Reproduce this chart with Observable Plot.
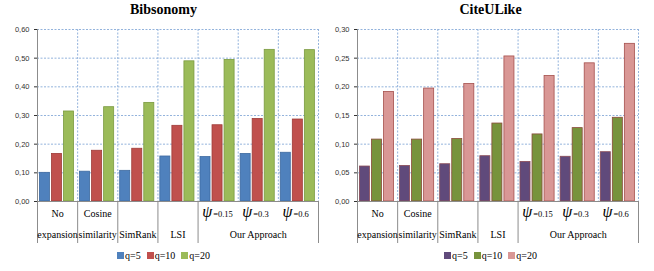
<!DOCTYPE html>
<html>
<head>
<meta charset="utf-8">
<script src="https://cdn.jsdelivr.net/npm/d3@7"></script>
<script src="https://cdn.jsdelivr.net/npm/@observablehq/plot@0.6"></script>
<style>
  html, body { margin: 0; padding: 0; background: #fff; }
  #root { position: relative; width: 654px; height: 271px; overflow: hidden; }
  .panel { position: absolute; top: 0; width: 327px; height: 271px; }
  .panel svg { position: absolute; left: 0; top: 0; }
  .title { position: absolute; top: 2px; left: 0; width: 327px; text-align: center;
           font: bold 14px "Liberation Serif", serif; color: #000; }
  .legend { position: absolute; top: 250px; left: 0; width: 327px; text-align: center;
            font: 10px "Liberation Serif", serif; color: #000; white-space: nowrap; }
  .legend .item { display: inline-block; margin: 0 3px; }
  .legend .sw { display: inline-block; width: 7px; height: 7px; margin-right: 1px; vertical-align: 0px; }
</style>
</head>
<body>
<div id="root"></div>
<script>
// ---- data ----
const categories = ["No expansion", "Cosine similarity", "SimRank", "LSI", "ψ=0.15", "ψ=0.3", "ψ=0.6"];
const labelTop = ["No", "Cosine", "", "", "", "", ""];
const labelBottom = ["expansion", "similarity", "SimRank", "LSI", "", "Our Approach", ""];
const psiLabels = ["", "", "", "", "=0.15", "=0.3", "=0.6"];
const series = ["q=5", "q=10", "q=20"];

const bibTitle = "Bibsonomy";
const bibQ5  = [0.100, 0.104, 0.107, 0.157, 0.155, 0.166, 0.170];
const bibQ10 = [0.166, 0.177, 0.184, 0.264, 0.266, 0.288, 0.286];
const bibQ20 = [0.314, 0.329, 0.344, 0.489, 0.494, 0.529, 0.528];
const bibTicks = [0, 0.1, 0.2, 0.3, 0.4, 0.5, 0.6];

const citeTitle = "CiteULike";
const citeQ5  = [0.061, 0.062, 0.065, 0.079, 0.069, 0.078, 0.086];
const citeQ10 = [0.108, 0.108, 0.109, 0.136, 0.117, 0.128, 0.146];
const citeQ20 = [0.191, 0.197, 0.205, 0.253, 0.219, 0.241, 0.275];
const citeTicks = [0, 0.05, 0.10, 0.15, 0.20, 0.25, 0.30];

// category boundaries that get a solid separator below the axis
const separators = [0, 1, 2, 3, 4, 7];

// ---- chart builder ----
function chart({values, ticks, colors, strokes, marginLeft, marginRight}) {
  const rows = [];
  values.forEach((vals, j) => vals.forEach((v, i) => {
    const x1 = i + 0.06 + j * 0.3;
    rows.push({cat: categories[i], series: series[j], value: v, x1, x2: x1 + 0.25});
  }));
  const labels = categories.map((c, i) => ({
    mid: i + 0.5, top: labelTop[i], bottom: labelBottom[i], psi: psiLabels[i]
  }));
  const psiRows = labels.filter(d => d.psi);
  const grid = "#93B3DC";
  const axisGray = "#8C8C8C";
  return Plot.plot({
    width: 327, height: 271,
    marginTop: 29, marginBottom: 70, marginLeft, marginRight,
    x: {domain: [0, categories.length], axis: null},
    y: {domain: [0, ticks[ticks.length - 1]], ticks, tickFormat: d => d.toFixed(2).replace(".", ","),
        tickSize: 3, tickPadding: 5, label: null},
    color: {domain: series, range: colors},
    style: {fontFamily: "'Liberation Sans', Arial, sans-serif", fontSize: "7.5px", color: "#333", background: "transparent", overflow: "visible"},
    marks: [
      Plot.ruleY(ticks.filter(t => t > 0), {stroke: grid, strokeDasharray: "2,1.5"}),
      Plot.ruleX(d3.range(1, categories.length + 1), {stroke: grid, strokeDasharray: "2,1.5"}),
      Plot.rectY(rows, {x1: "x1", x2: "x2", y: "value", fill: "series",
        stroke: d => strokes[series.indexOf(d.series)], strokeWidth: 0.8}),
      Plot.ruleY([0], {stroke: axisGray}),
      Plot.ruleX([0], {stroke: axisGray, insetBottom: -42}),
      Plot.ruleX(separators, {y1: 0, y2: 0, insetBottom: -42, stroke: axisGray}),
      Plot.text(labels, {x: "mid", text: "top", frameAnchor: "bottom", dy: 15,
        fontFamily: "'Liberation Serif', serif", fontSize: 10, fill: "#000"}),
      Plot.text(labels, {x: "mid", text: "bottom", frameAnchor: "bottom", dy: 36,
        fontFamily: "'Liberation Serif', serif", fontSize: 10, fill: "#000"}),
      Plot.text(psiRows, {x: "mid", text: () => "ψ", frameAnchor: "bottom", dy: 15, dx: -6,
        textAnchor: "end", fontFamily: "'Liberation Serif', serif", fontStyle: "italic", fontSize: 16, fill: "#000"}),
      Plot.text(psiRows, {x: "mid", text: "psi", frameAnchor: "bottom", dy: 15.5, dx: -5,
        textAnchor: "start", fontFamily: "'Liberation Serif', serif", fontSize: 8.5, fill: "#000"})
    ]
  });
}

function panel(left, title, opts) {
  const p = document.createElement("div");
  p.className = "panel";
  p.style.left = left + "px";
  p.appendChild(chart(opts));
  const t = document.createElement("div");
  t.className = "title";
  t.textContent = title;
  p.appendChild(t);
  const lg = document.createElement("div");
  lg.className = "legend";
  series.forEach((s, j) => {
    const it = document.createElement("span");
    it.className = "item";
    const sw = document.createElement("span");
    sw.className = "sw";
    sw.style.background = opts.colors[j];
    it.appendChild(sw);
    it.appendChild(document.createTextNode(s));
    lg.appendChild(it);
  });
  p.appendChild(lg);
  document.getElementById("root").appendChild(p);
}

panel(0, bibTitle, {
  values: [bibQ5, bibQ10, bibQ20], ticks: bibTicks,
  colors: ["#4F81BD", "#C0504D", "#9BBB59"],
  strokes: ["#3E6AA0", "#9E3B38", "#7A9A40"],
  marginLeft: 37, marginRight: 9
});
panel(327, citeTitle, {
  values: [citeQ5, citeQ10, citeQ20], ticks: citeTicks,
  colors: ["#604A7B", "#77933C", "#D99795"],
  strokes: ["#8A4A55", "#8A4A3A", "#A5504D"],
  marginLeft: 30, marginRight: 16
});
</script>
</body>
</html>
